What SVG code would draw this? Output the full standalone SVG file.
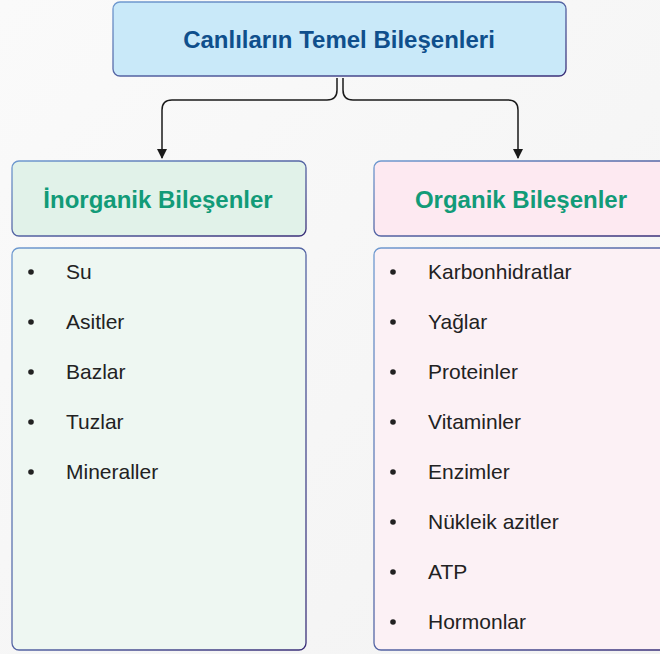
<svg xmlns="http://www.w3.org/2000/svg" width="660" height="654" viewBox="0 0 660 654">
<defs>
<linearGradient id="bg" x1="0" y1="0" x2="1" y2="1"><stop offset="0" stop-color="#fafafa"/><stop offset="1" stop-color="#f3f3f3"/></linearGradient>
<linearGradient id="bd" x1="0" y1="0" x2="1" y2="1"><stop offset="0" stop-color="#6f9ad0"/><stop offset="1" stop-color="#3a2f78"/></linearGradient>
<marker id="ah" viewBox="0 0 10 10" refX="9" refY="5" markerWidth="10" markerHeight="10" markerUnits="userSpaceOnUse" orient="auto"><path d="M0,0 L10,5 L0,10 Z" fill="#1a1a1a"/></marker>
</defs>
<style>
.box{stroke:url(#bd);stroke-width:1.3}
.title{font-family:"Liberation Sans",Arial,sans-serif;font-weight:bold;font-size:24px;fill:#0f4f8c;text-anchor:middle}
.head{font-family:"Liberation Sans",Arial,sans-serif;font-weight:bold;font-size:24px;fill:#129b78;text-anchor:middle}
.item{font-family:"Liberation Sans",Arial,sans-serif;font-size:21px;fill:#222}
.bul{fill:#222}
.con{fill:none;stroke:#1a1a1a;stroke-width:1.5}
</style>
<rect width="660" height="654" fill="url(#bg)"/>
<g id="connectors">
<path class="con" d="M337,78 V90 Q337,100 327,100 H172 Q162,100 162,110 V158" marker-end="url(#ah)"/>
<path class="con" d="M343,78 V90 Q343,100 353,100 H508 Q518,100 518,110 V158" marker-end="url(#ah)"/>
</g>
<g id="title">
<rect class="box" x="113" y="2" width="453" height="74" rx="7" fill="#c9e9f9"/>
<text class="title" x="339" y="48">Canlıların Temel Bileşenleri</text>
</g>
<g id="inorganik">
<rect class="box" x="12" y="161" width="294" height="75" rx="7" fill="#e1f2e9"/>
<text class="head" x="158" y="208">İnorganik Bileşenler</text>
</g>
<g id="organik">
<rect class="box" x="374" y="161" width="300" height="75" rx="7" fill="#fde9f1"/>
<text class="head" x="521" y="208">Organik Bileşenler</text>
</g>
<g id="inorganik-list">
<rect class="box" x="12" y="248" width="294" height="402" rx="7" fill="#eef7f2"/>
<g class="bul"><circle cx="31" cy="272" r="2.8"/><circle cx="31" cy="322" r="2.8"/><circle cx="31" cy="372" r="2.8"/><circle cx="31" cy="422" r="2.8"/><circle cx="31" cy="472" r="2.8"/></g>
<text class="item" x="66" y="279">Su</text>
<text class="item" x="66" y="329">Asitler</text>
<text class="item" x="66" y="379">Bazlar</text>
<text class="item" x="66" y="429">Tuzlar</text>
<text class="item" x="66" y="479">Mineraller</text>
</g>
<g id="organik-list">
<rect class="box" x="374" y="248" width="300" height="402" rx="7" fill="#fcf1f5"/>
<g class="bul"><circle cx="393" cy="272" r="2.8"/><circle cx="393" cy="322" r="2.8"/><circle cx="393" cy="372" r="2.8"/><circle cx="393" cy="422" r="2.8"/><circle cx="393" cy="472" r="2.8"/><circle cx="393" cy="522" r="2.8"/><circle cx="393" cy="572" r="2.8"/><circle cx="393" cy="622" r="2.8"/></g>
<text class="item" x="428" y="279">Karbonhidratlar</text>
<text class="item" x="428" y="329">Yağlar</text>
<text class="item" x="428" y="379">Proteinler</text>
<text class="item" x="428" y="429">Vitaminler</text>
<text class="item" x="428" y="479">Enzimler</text>
<text class="item" x="428" y="529">Nükleik azitler</text>
<text class="item" x="428" y="579">ATP</text>
<text class="item" x="428" y="629">Hormonlar</text>
</g>
</svg>
